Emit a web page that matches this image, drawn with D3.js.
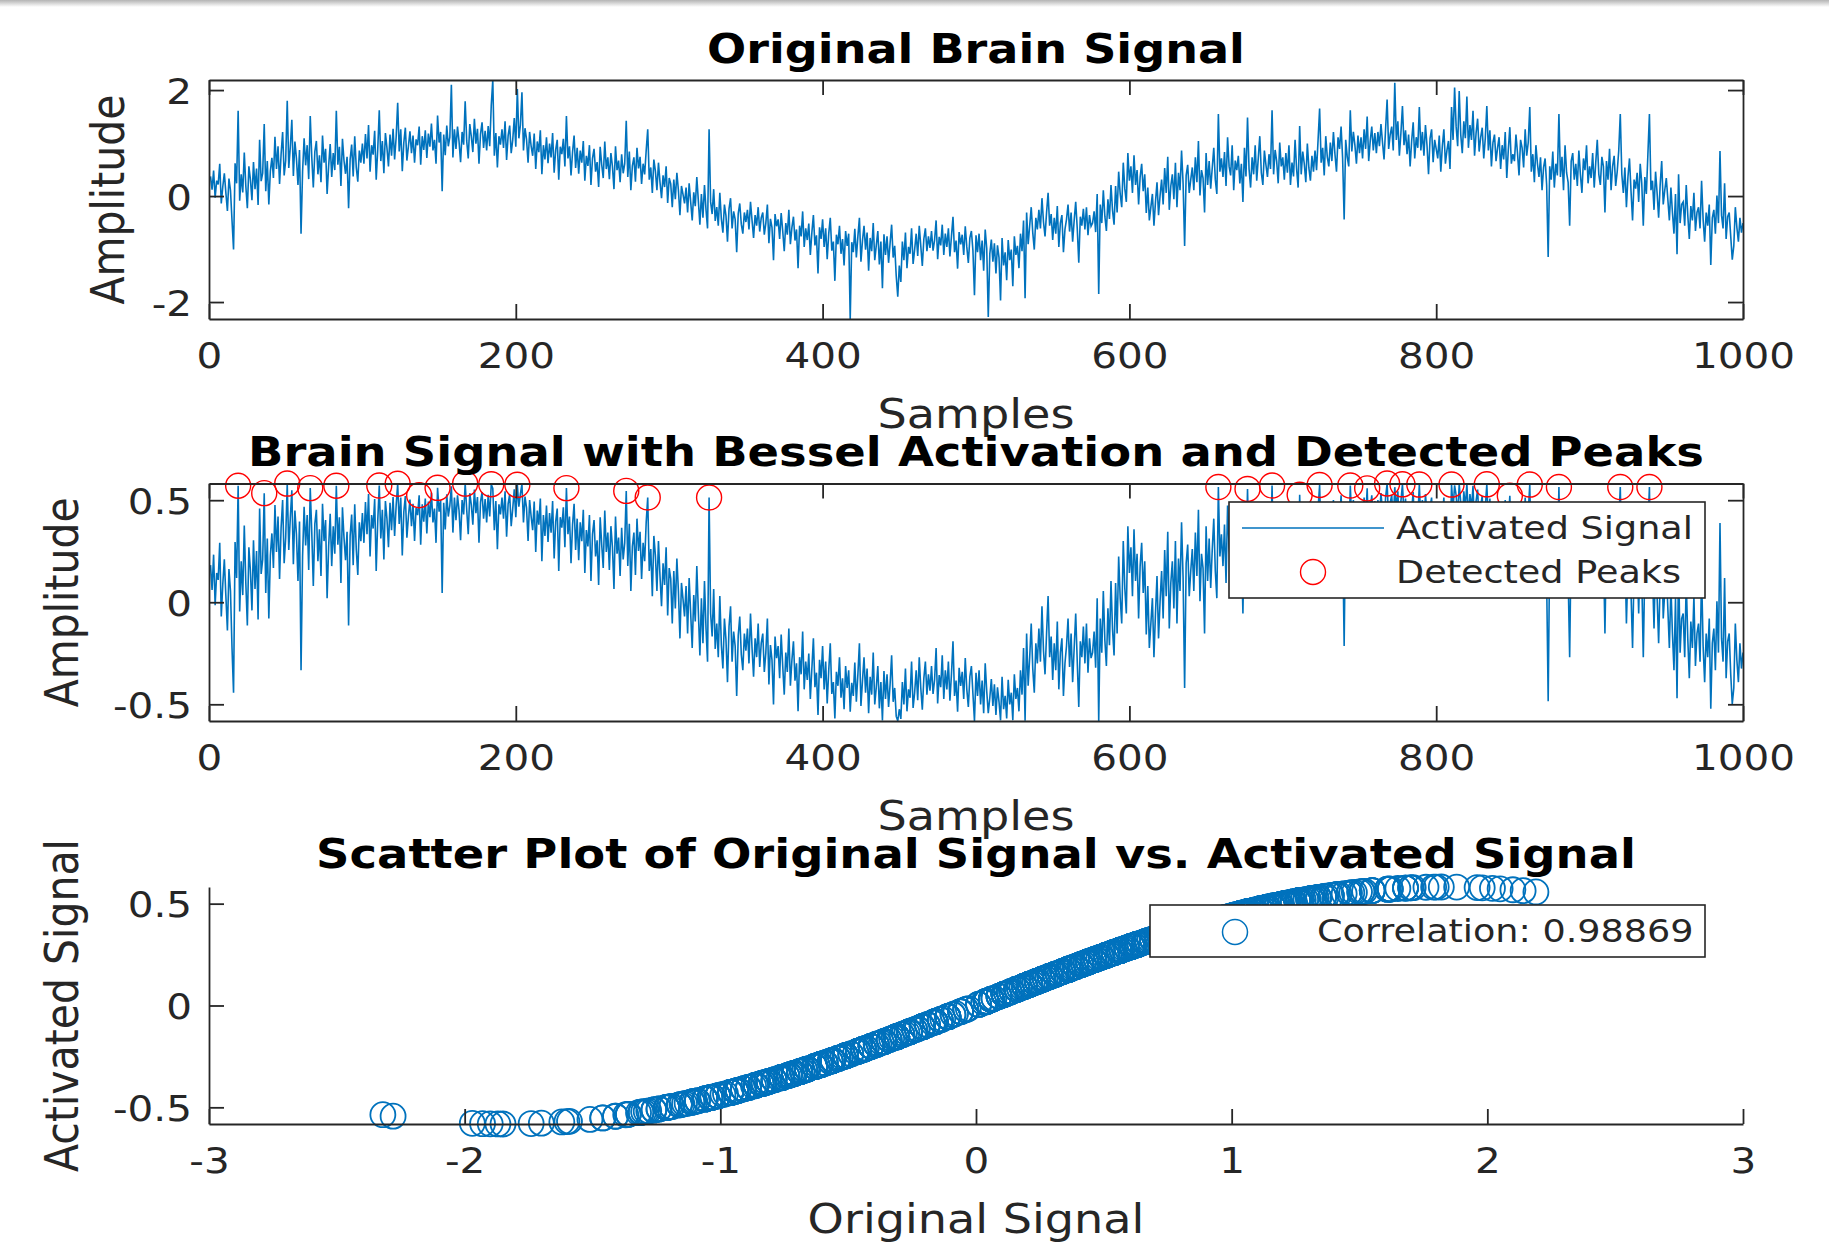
<!DOCTYPE html>
<html>
<head>
<meta charset="utf-8">
<script src="https://cdn.jsdelivr.net/npm/d3@7"></script>
<style>
  html, body { margin: 0; padding: 0; background: #ffffff; }
  svg { display: block; }
</style>
</head>
<body>
<svg id="chart" width="1829" height="1247"></svg>
<script>
// ---------------- DATA ----------------
const titles = [
  "Original Brain Signal",
  "Brain Signal with Bessel Activation and Detected Peaks",
  "Scatter Plot of Original Signal vs. Activated Signal"
];
const xLabels = ["Samples", "Samples", "Original Signal"];
const yLabels = ["Amplitude", "Amplitude", "Activated Signal"];
const sampleTicks = [0, 200, 400, 600, 800, 1000];
const ampTicks = [-2, 0, 2];
const actTicks = [-0.5, 0, 0.5];
const origTicks = [-3, -2, -1, 0, 1, 2, 3];
const legendLabels = ["Activated Signal", "Detected Peaks"];
const correlationLabel = "Correlation: 0.98869";

// original brain signal, samples 1..1000
const originalSignal = [
  0.37, 0.12, 0.48, -0.03, 0.29, 0.22, 0.61, -0.14, 0.18, 0.43,
  0.06, -0.28, 0.33, 0.11, -0.46, -1.01, 0.62, 0.24, 1.61, -0.09,
  0.41, 0.07, 0.82, 0.19, -0.23, 0.56, 0.31, -0.08, 0.64, 0.13,
  0.52, -0.17, 1.06, 0.28, 0.43, 1.36, 0.09, 0.66, -0.16, 0.47,
  0.72, 0.34, 1.12, 0.51, 0.94, 0.23, 0.79, 1.21, 0.39, 0.67,
  1.80, 0.53, 0.92, 1.44, 0.38, 1.03, 0.71, 0.21, 0.87, -0.71,
  0.46, 1.09, 0.58, 0.96, 0.32, 1.51, 0.73, 0.16, 0.84, 1.04,
  0.41, 0.77, 0.26, 1.14, 0.63, 0.89, 0.04, 0.57, 0.98, 0.36,
  0.81, 0.49, 1.61, 0.59, 0.93, 0.19, 1.08, 0.67, 0.42, 0.74,
  -0.23, 0.69, 0.97, 0.37, 1.13, 0.54, 0.27, 0.86, 0.63, 0.99,
  0.61, 1.17, 0.71, 1.34, 0.46, 0.96, 0.78, 1.23, 0.31, 0.88,
  1.62, 0.66, 1.04, 0.43, 1.19, 0.91, 0.56, 1.16, 0.76, 1.27,
  0.69, 1.11, 1.76, 0.84, 1.26, 0.47, 1.01, 1.29, 0.67, 0.94,
  1.22, 0.81, 1.14, 0.63, 1.07, 0.96, 1.31, 0.59, 1.13, 0.87,
  1.24, 0.72, 1.18, 0.93, 1.37, 0.86, 1.06, 0.61, 1.52, 1.01,
  1.21, 0.09, 1.16, 0.77, 1.33, 0.94, 1.11, 2.10, 0.73, 1.26,
  0.89, 1.31, 1.03, 0.64, 1.21, 0.97, 1.79, 1.04, 0.71, 1.36,
  1.12, 0.83, 1.46, 0.99, 1.27, 0.61, 1.17, 1.39, 0.91, 1.23,
  0.86, 1.32, 0.94, 1.71, 2.19, 0.76, 1.19, 0.54, 1.13, 0.97,
  1.26, 0.91, 1.41, 0.68, 1.14, 1.33, 0.81, 1.06, 1.47, 0.93,
  2.02, 1.09, 1.34, 1.96, 0.86, 1.28, 1.07, 0.63, 1.21, 0.94,
  0.76, 1.18, 0.51, 1.03, 0.83, 1.24, 0.41, 0.96, 0.69, 1.11,
  0.62, 0.99, 0.73, 1.19, 0.44, 0.87, 1.06, 0.31, 0.93, 0.79,
  1.08, 0.56, 1.51, 0.71, 0.94, 0.39, 0.83, 1.14, 0.53, 0.91,
  0.42, 0.86, 0.63, 1.04, 0.29, 0.76, 0.57, 0.96, 0.21, 0.71,
  0.89, 0.46, 0.64, 0.17, 0.93, 0.59, 0.34, 1.03, 0.51, 0.73,
  0.32, 0.81, 0.56, 0.13, 0.94, 0.49, 0.67, 0.26, 0.79, 0.43,
  0.61, 1.42, 0.36, 0.84, 0.11, 0.57, 0.73, 0.27, 0.91, 0.52,
  0.74, 0.23, 0.61, 0.41, 0.86, 1.26, 0.31, 0.54, 0.06, 0.69,
  0.47, 0.11, 0.63, 0.26, -0.04, 0.39, 0.17, 0.56, -0.13, 0.34,
  0.23, -0.21, 0.31, -0.06, 0.44, 0.11, -0.36, 0.19, 0.03, -0.14,
  0.16, -0.31, 0.24, -0.11, -0.46, 0.07, -0.19, 0.36, -0.09, -0.54,
  0.04, -0.41, 0.21, -0.26, -0.61, 1.26, -0.11, -0.34, 0.13, -0.47,
  -0.21, -0.56, 0.06, -0.43, -0.69, -0.16, -0.37, -0.86, -0.24, -0.04,
  -0.61, -0.29, -0.44, -1.06, -0.33, -0.14, -0.53, -0.71, -0.31, -0.49,
  -0.26, -0.63, -0.11, -0.46, -0.79, -0.36, -0.56, -0.21, -0.67, -0.41,
  -0.31, -0.73, -0.51, -0.16, -0.89, -0.43, -0.59, -1.21, -0.34, -0.57,
  -0.44, -0.81, -0.32, -0.66, -1.04, -0.51, -0.73, -0.26, -0.91, -0.59,
  -0.39, -0.84, -0.63, -1.36, -0.56, -0.76, -0.29, -0.96, -0.61, -0.83,
  -0.52, -1.11, -0.69, -0.36, -0.93, -0.74, -1.46, -0.59, -0.81, -0.44,
  -0.96, -0.61, -1.19, -0.71, -0.41, -1.03, -0.86, -1.60, -0.73, -0.91,
  -0.56, -1.09, -0.81, -1.31, -0.66, -0.94, -0.71, -2.32, -0.87, -1.06,
  -0.62, -1.16, -0.76, -0.41, -1.24, -0.84, -0.56, -1.01, -0.69, -1.41,
  -0.79, -1.04, -0.51, -1.21, -0.93, -0.66, -1.29, -0.86, -1.74, -0.72,
  -1.11, -0.76, -1.26, -0.89, -0.54, -1.16, -0.94, -1.51, -1.90, -1.31,
  -1.62, -0.86, -1.21, -0.69, -1.36, -0.96, -1.09, -0.61, -1.28, -1.01,
  -0.71, -1.13, -0.56, -0.94, -1.32, -0.81, -0.61, -1.04, -0.76, -0.98,
  -0.66, -1.03, -0.83, -0.46, -1.19, -0.77, -0.93, -0.54, -1.11, -0.71,
  -0.96, -0.61, -1.14, -0.76, -0.39, -1.06, -0.84, -1.37, -0.68, -0.91,
  -0.73, -1.11, -0.57, -0.96, -1.26, -0.79, -0.66, -1.03, -1.87, -0.74,
  -1.06, -0.71, -1.21, -0.84, -1.41, -0.63, -0.99, -2.28, -1.09, -0.82,
  -1.24, -0.89, -1.46, -0.93, -1.16, -1.97, -0.79, -1.31, -1.06, -1.59,
  -0.83, -1.21, -1.01, -1.70, -0.76, -1.11, -0.94, -1.36, -0.71, -1.04,
  -0.46, -1.93, -0.31, -0.91, -0.56, -0.21, -0.69, -1.01, -0.41, -0.63,
  -0.26, -0.61, -0.04, -0.49, -0.76, -0.31, 0.06, -0.56, -0.34, -0.83,
  -0.41, -0.71, -0.19, -0.96, -0.51, -0.36, -1.06, -0.63, -0.44, -0.16,
  -0.67, -0.31, -0.86, -0.46, -0.11, -0.61, -1.26, -0.39, -0.56, -0.24,
  -0.63, -0.21, -0.74, -0.36, -0.57, -0.51, -0.29, -0.68, 0.04, -1.85,
  -0.16, -0.51, 0.11, -0.38, -0.66, -0.06, -0.43, 0.21, -0.27, -0.54,
  0.19, -0.31, 0.46, 0.04, -0.21, 0.63, 0.14, -0.11, 0.81, 0.29,
  0.56, 0.06, 0.77, 0.21, 0.49, -0.16, 0.36, 0.61, 0.09, 0.41,
  -0.32, 0.16, -0.46, -0.21, 0.04, -0.56, -0.11, 0.26, -0.36, 0.01,
  0.31, -0.16, 0.53, 0.06, 0.74, -0.26, 0.19, 0.41, -0.06, 0.63,
  -0.21, 0.44, 0.11, 0.86, 0.24, -0.94, 0.39, 0.59, 0.06, 0.31,
  0.54, 0.11, 0.73, 0.26, 1.04, 0.01, 0.49, 0.34, -0.31, 0.81,
  0.21, 0.66, 0.14, 0.53, 0.91, 0.31, 0.04, 1.55, 0.46, 0.71,
  0.36, 0.83, 0.19, 1.11, 0.56, 0.39, 0.96, 0.11, 0.67, 0.49,
  0.76, 0.24, 0.61, -0.11, 0.91, 0.37, 1.48, 0.51, 0.16, 0.73,
  0.41, 0.96, 0.29, 0.71, 1.13, 0.44, 0.21, 0.86, 0.59, 0.36,
  0.79, 0.51, 1.62, 0.41, 0.87, 0.66, 0.24, 1.01, 0.56, 0.73,
  0.31, 0.81, 0.44, 0.96, 0.21, 0.63, 0.37, 1.06, 0.51, 0.16,
  1.32, 0.41, 0.84, 0.61, 0.26, 0.99, 0.53, 0.29, 0.76, 0.46,
  0.86, 0.49, 1.06, 1.65, 0.63, 0.91, 0.39, 1.13, 0.74, 0.56,
  1.01, 0.66, 1.21, 0.79, 0.46, 1.11, 0.89, 1.31, 0.71, -0.44,
  1.06, 0.74, 0.56, 1.62, 0.84, 1.21, 0.96, 0.61, 1.14, 0.81,
  1.11, 0.71, 1.26, 0.89, 1.50, 0.66, 1.04, 1.31, 0.86, 1.19,
  0.81, 1.21, 0.94, 1.36, 1.01, 0.69, 1.26, 1.82, 0.89, 1.16,
  1.31, 0.86, 2.14, 1.06, 1.41, 0.76, 1.19, 1.70, 0.96, 1.24,
  0.79, 1.16, 0.56, 1.04, 1.39, 0.71, 1.11, 0.91, 1.68, 0.86,
  1.21, 0.76, 1.34, 0.96, 0.41, 1.09, 1.26, 0.64, 1.06, 0.89,
  0.71, 1.14, 0.46, 0.94, 1.26, 0.61, 0.86, 1.04, 0.51, 1.68,
  1.06, 2.05, 1.31, 0.94, 1.98, 1.16, 0.81, 1.41, 1.09, 1.88,
  0.91, 1.34, 1.06, 1.61, 0.76, 1.19, 1.46, 0.84, 1.11, 1.29,
  0.71, 1.09, 1.70, 0.86, 1.24, 0.56, 1.01, 1.16, 0.66, 0.91,
  1.11, 0.51, 0.96, 0.69, 1.21, 0.34, 0.87, 1.30, 0.61, 0.79,
  0.66, 1.16, 0.81, 0.39, 1.06, 0.91, 0.54, 1.26, 0.76, 1.01,
  1.68, 0.46, 0.79, 0.26, 0.96, 0.61, 0.36, 0.73, 0.11, 0.54,
  0.71, 0.21, -1.15, 0.56, 0.31, 0.84, 0.16, 0.61, 0.39, 1.55,
  0.36, 0.74, 0.11, 0.96, 0.44, 0.26, -0.56, 0.66, 0.81, 0.31,
  0.61, 0.19, 0.86, 0.41, 0.06, 0.71, 0.49, 0.96, 0.24, 0.56,
  0.34, 0.81, 0.16, 0.63, 1.06, 0.41, 0.21, 0.74, 0.56, -0.31,
  0.66, 0.31, 0.89, 0.11, 0.56, 0.76, 0.19, 0.46, 0.86, 1.55,
  0.41, 0.06, 0.54, -0.21, 0.36, 0.71, 0.09, -0.46, 0.31, 0.14,
  0.44, -0.11, 0.61, 0.24, -0.56, 0.36, 0.04, 0.79, 1.55, 0.11,
  0.29, -0.26, 0.46, 0.06, -0.41, 0.21, 0.66, -0.16, 0.11, 0.34,
  -0.06, -0.46, 0.16, -0.31, -0.71, 0.04, -1.10, 0.41, -0.51, -0.16,
  -0.11, -0.56, 0.21, -0.36, -0.81, -0.19, -0.46, 0.06, -0.66, -0.31,
  -0.21, -0.61, 0.29, -0.44, -0.86, -0.31, -0.56, -0.16, -1.30, -0.41,
  -0.26, -0.71, 0.01, -0.51, 0.85, -0.36, -0.61, 0.24, -0.81, -0.39,
  -0.31, -0.76, -1.20, -0.94, -0.21, -0.59, -0.86, -0.41, -0.69, -0.51
];

// sample numbers of the detected peaks (red circles)
const peakSamples = [
  19, 36, 51, 66, 83, 111, 123, 137, 149, 167, 184, 201, 233, 272, 286, 326,
  658, 677, 693, 711, 724, 744, 755, 768, 778, 789, 810, 833, 848, 861, 880, 920, 939
];

// ---------------- DERIVED (Bessel activation J1) ----------------
function besselJ1(x) {
  let sum = 0, term = x / 2;
  for (let k = 0; k < 30; k++) {
    sum += term;
    term *= -(x * x / 4) / ((k + 1) * (k + 2));
  }
  return sum;
}
const samples = originalSignal.map((_, i) => i + 1);
const activatedSignal = originalSignal.map(besselJ1);

// ---------------- STYLE / LAYOUT ----------------
const FONT = "DejaVu Sans";
const INK = "#262626";
const BLUE = "#0072BD";
const SX = 1.125;          // horizontal stretch of the reference image
const TICK = 15;
const left = 209, right = 1743;
const panels = [
  { top: 80, bottom: 319 },
  { top: 483.5, bottom: 721 },
  { top: 887, bottom: 1124 }
];

const svg = d3.select("#chart");

// top screenshot edge
const defs = svg.append("defs");
const grad = defs.append("linearGradient").attr("id", "topEdge")
  .attr("x1", 0).attr("y1", 0).attr("x2", 0).attr("y2", 1);
grad.append("stop").attr("offset", "0%").attr("stop-color", "#b4b4b4");
grad.append("stop").attr("offset", "100%").attr("stop-color", "#ffffff");
svg.append("rect").attr("x", 0).attr("y", 0).attr("width", 1829).attr("height", 7)
  .attr("fill", "url(#topEdge)");

function label(x, y, str, size, opts = {}) {
  return svg.append("text")
    .attr("transform", `translate(${x},${y}) scale(${SX},1)` + (opts.rotate ? " rotate(-90)" : ""))
    .attr("text-anchor", opts.anchor || "middle")
    .attr("font-family", FONT)
    .attr("font-size", size)
    .attr("font-weight", opts.bold ? "bold" : "normal")
    .attr("fill", opts.color || INK)
    .text(str);
}

function styleAxis(g, kind) {
  g.selectAll("path.domain").attr("stroke", INK).attr("stroke-width", 1.8);
  g.selectAll(".tick line").attr("stroke", INK).attr("stroke-width", 1.8);
  g.selectAll(".tick text")
    .attr("font-family", FONT).attr("font-size", 36).attr("fill", INK);
  if (kind === "bottom") {
    g.selectAll(".tick text").attr("y", 49).attr("dy", null)
      .attr("transform", `scale(${SX},1)`);
  } else if (kind === "left") {
    g.selectAll(".tick text").attr("x", -17 / SX).attr("dy", "0.36em")
      .attr("transform", `scale(${SX},1)`);
  }
}

const fmtInt = d => String(d);
const fmtAct = d => (d === 0 ? "0" : d.toFixed(1));

function boxAxes(xs, ys, p, yTicks, yFmt) {
  const gB = svg.append("g").attr("transform", `translate(0,${p.bottom})`)
    .call(d3.axisBottom(xs).tickValues(sampleTicks).tickSize(-TICK).tickSizeOuter(0).tickFormat(fmtInt));
  styleAxis(gB, "bottom");
  const gT = svg.append("g").attr("transform", `translate(0,${p.top})`)
    .call(d3.axisTop(xs).tickValues(sampleTicks).tickSize(-TICK).tickSizeOuter(0).tickFormat(""));
  styleAxis(gT, "top");
  const gL = svg.append("g").attr("transform", `translate(${left},0)`)
    .call(d3.axisLeft(ys).tickValues(yTicks).tickSize(-TICK).tickSizeOuter(0).tickFormat(yFmt));
  styleAxis(gL, "left");
  const gR = svg.append("g").attr("transform", `translate(${right},0)`)
    .call(d3.axisRight(ys).tickValues(yTicks).tickSize(-TICK).tickSizeOuter(0).tickFormat(""));
  styleAxis(gR, "right");
}

// ---------------- PANEL 1 : original ----------------
const x1 = d3.scaleLinear().domain([0, 1000]).range([left, right]);
const y1 = d3.scaleLinear().domain(d3.extent(originalSignal)).range([panels[0].bottom, panels[0].top]);

defs.append("clipPath").attr("id", "clip1").append("rect")
  .attr("x", left).attr("y", panels[0].top).attr("width", right - left).attr("height", panels[0].bottom - panels[0].top);
defs.append("clipPath").attr("id", "clip2").append("rect")
  .attr("x", left).attr("y", panels[1].top).attr("width", right - left).attr("height", panels[1].bottom - panels[1].top);

svg.append("path")
  .datum(samples)
  .attr("clip-path", "url(#clip1)")
  .attr("fill", "none").attr("stroke", BLUE).attr("stroke-width", 1.6)
  .attr("d", d3.line().x(s => x1(s)).y(s => y1(originalSignal[s - 1])));

boxAxes(x1, y1, panels[0], ampTicks, fmtInt);
label(976, 63, titles[0], 41, { bold: true, color: "#000" });
label(976, 428, xLabels[0], 41);
label(124, (panels[0].top + panels[0].bottom) / 2, yLabels[0], 41, { rotate: true });

// ---------------- PANEL 2 : activated + peaks ----------------
const y2 = d3.scaleLinear().domain(d3.extent(activatedSignal)).range([panels[1].bottom, panels[1].top]);

svg.append("path")
  .datum(samples)
  .attr("clip-path", "url(#clip2)")
  .attr("fill", "none").attr("stroke", BLUE).attr("stroke-width", 1.6)
  .attr("d", d3.line().x(s => x1(s)).y(s => y2(activatedSignal[s - 1])));

svg.append("g").selectAll("circle")
  .data(peakSamples)
  .join("circle")
  .attr("cx", s => x1(s))
  .attr("cy", s => y2(activatedSignal[s - 1]))
  .attr("r", 12.5)
  .attr("fill", "none").attr("stroke", "#FF0000").attr("stroke-width", 1.4);

boxAxes(x1, y2, panels[1], actTicks, fmtAct);

// legend (panel 2)
const lg = svg.append("g");
lg.append("rect").attr("x", 1229).attr("y", 502).attr("width", 476).attr("height", 96)
  .attr("fill", "#fff").attr("stroke", INK).attr("stroke-width", 1.6);
lg.append("line").attr("x1", 1242).attr("x2", 1384).attr("y1", 528).attr("y2", 528)
  .attr("stroke", BLUE).attr("stroke-width", 1.6);
lg.append("circle").attr("cx", 1313).attr("cy", 572).attr("r", 12.5)
  .attr("fill", "none").attr("stroke", "#FF0000").attr("stroke-width", 1.4);
label(1396, 539, legendLabels[0], 32.5, { anchor: "start" });
label(1396, 583, legendLabels[1], 32.5, { anchor: "start" });

label(976, 466, titles[1], 41.3, { bold: true, color: "#000" });
label(976, 830, xLabels[1], 41);
label(78, (panels[1].top + panels[1].bottom) / 2, yLabels[1], 41, { rotate: true });

// ---------------- PANEL 3 : scatter ----------------
const x3 = d3.scaleLinear().domain([-3, 3]).range([left, right]);
const y3 = d3.scaleLinear().domain(d3.extent(activatedSignal)).range([panels[2].bottom, panels[2].top]);

svg.append("g").selectAll("circle")
  .data(samples)
  .join("circle")
  .attr("cx", s => x3(originalSignal[s - 1]))
  .attr("cy", s => y3(activatedSignal[s - 1]))
  .attr("r", 12.5)
  .attr("fill", "none").attr("stroke", BLUE).attr("stroke-width", 1.8);

const gB3 = svg.append("g").attr("transform", `translate(0,${panels[2].bottom})`)
  .call(d3.axisBottom(x3).tickValues(origTicks).tickSize(-TICK).tickSizeOuter(0).tickFormat(fmtInt));
styleAxis(gB3, "bottom");
const gL3 = svg.append("g").attr("transform", `translate(${left},0)`)
  .call(d3.axisLeft(y3).tickValues(actTicks).tickSize(-TICK).tickSizeOuter(0).tickFormat(fmtAct));
styleAxis(gL3, "left");

const lg3 = svg.append("g");
lg3.append("rect").attr("x", 1150).attr("y", 905).attr("width", 555).attr("height", 52)
  .attr("fill", "#fff").attr("stroke", INK).attr("stroke-width", 1.6);
lg3.append("circle").attr("cx", 1235).attr("cy", 932).attr("r", 12.5)
  .attr("fill", "none").attr("stroke", BLUE).attr("stroke-width", 1.5);
label(1317, 942, correlationLabel, 32.5, { anchor: "start" });

label(976, 868, titles[2], 41.3, { bold: true, color: "#000" });
label(976, 1233, xLabels[2], 41);
label(78, (panels[2].top + panels[2].bottom) / 2, yLabels[2], 41, { rotate: true });
</script>
</body>
</html>
